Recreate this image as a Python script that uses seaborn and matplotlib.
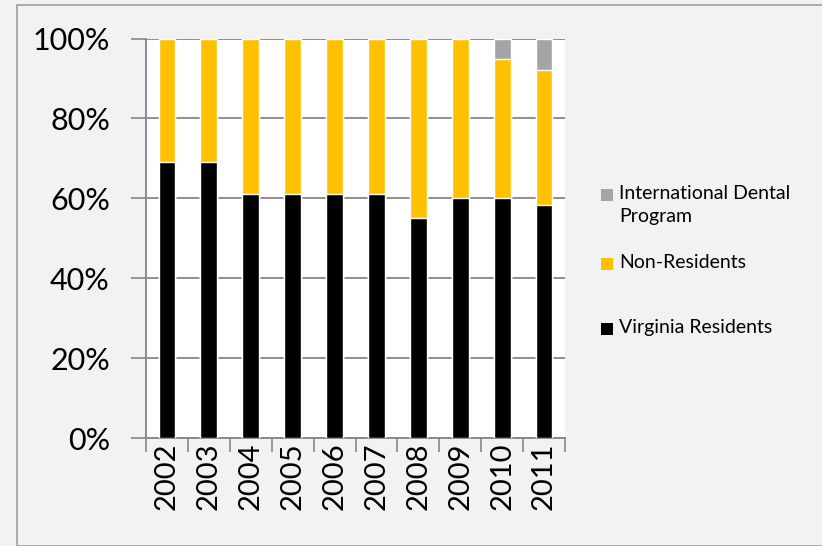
import matplotlib
matplotlib.use("Agg")
import matplotlib.pyplot as plt
import seaborn as sns
import pandas as pd
import numpy as np
from matplotlib.patches import Rectangle

years = ["2002", "2003", "2004", "2005", "2006", "2007", "2008", "2009", "2010", "2011"]
virginia = [69, 69, 61, 61, 61, 61, 55, 60, 60, 58.2]
non_res = [31, 31, 39, 39, 39, 39, 45, 40, 34.8, 34.0]
intl = [0, 0, 0, 0, 0, 0, 0, 0, 5.2, 7.8]
series_labels = ["International Dental\nProgram", "Non-Residents", "Virginia Residents"]

c_va = "#000000"
c_nr = "#FFC000"
c_in = "#A5A5A5"
grid_c = "#868686"

sns.set_theme(style="white")
plt.rcParams["font.family"] = ["Lato", "DejaVu Sans"]
plt.rcParams["text.color"] = "black"
plt.rcParams["xtick.color"] = "black"
plt.rcParams["ytick.color"] = "black"

df = pd.DataFrame({"year": years, "va": virginia, "nr": non_res, "in": intl})
df["va_nr"] = df["va"] + df["nr"]
df["total"] = df["va_nr"] + df["in"]

W, H = 822, 546
fig = plt.figure(figsize=(W / 100, H / 100), dpi=100)
fig.patch.set_facecolor("#F2F2F2")
fig.add_artist(Rectangle((17 / W, 0), 1, 1 - 5 / H, transform=fig.transFigure,
                         fill=False, edgecolor="#A0A0A0", linewidth=1.2))
ax = fig.add_axes([146 / W, 1 - 438 / H, (565 - 146) / W, (438 - 38.5) / H])
ax.set_facecolor("white")

sns.barplot(data=df, x="year", y="total", color=c_in, width=0.4, ax=ax, zorder=3,
            saturation=1)
sns.barplot(data=df, x="year", y="va_nr", color=c_nr, width=0.4, ax=ax, zorder=3,
            saturation=1)
sns.barplot(data=df, x="year", y="va", color=c_va, width=0.4, ax=ax, zorder=3,
            saturation=1)

ax.set_xlim(-0.5, 9.5)
ax.set_ylim(0, 100)
ax.set_xlabel("")
ax.set_ylabel("")
ax.set_yticks([0, 20, 40, 60, 80, 100])
ax.set_yticklabels(["0%", "20%", "40%", "60%", "80%", "100%"], fontsize=22)
ax.yaxis.grid(True, color=grid_c, linewidth=1.3, zorder=0)
ax.set_axisbelow(True)
ax.tick_params(axis="y", which="major", direction="out", length=11, width=1.2,
               color=grid_c, labelcolor="black", left=True, pad=15)
ax.set_xticks(range(len(years)))
ax.set_xticklabels(years, rotation=90, fontsize=21)
ax.tick_params(axis="x", which="major", length=0, pad=3, labelcolor="black")
ax.set_xticks(np.arange(-0.5, 10, 1), minor=True)
ax.tick_params(axis="x", which="minor", direction="out", length=10, width=1.2,
               color=grid_c, bottom=True)
for s in ["top", "right"]:
    ax.spines[s].set_visible(False)
for s in ["left", "bottom"]:
    ax.spines[s].set_color(grid_c)
    ax.spines[s].set_linewidth(1.3)

# legend (manual placement to match reference layout)
leg_colors = [c_in, c_nr, c_va]
leg_y = [195, 264, 329]
for lab, col, y in zip(series_labels, leg_colors, leg_y):
    fig.add_artist(Rectangle((601 / W, 1 - (y + 6) / H), 12 / W, 12 / H,
                             transform=fig.transFigure, facecolor=col, edgecolor="none"))
    fig.text(619 / W, 1 - (y - 10) / H, lab, fontsize=14, color="black",
             va="top", ha="left", linespacing=1.45)

fig.savefig("out.png", dpi=100, facecolor=fig.get_facecolor())
